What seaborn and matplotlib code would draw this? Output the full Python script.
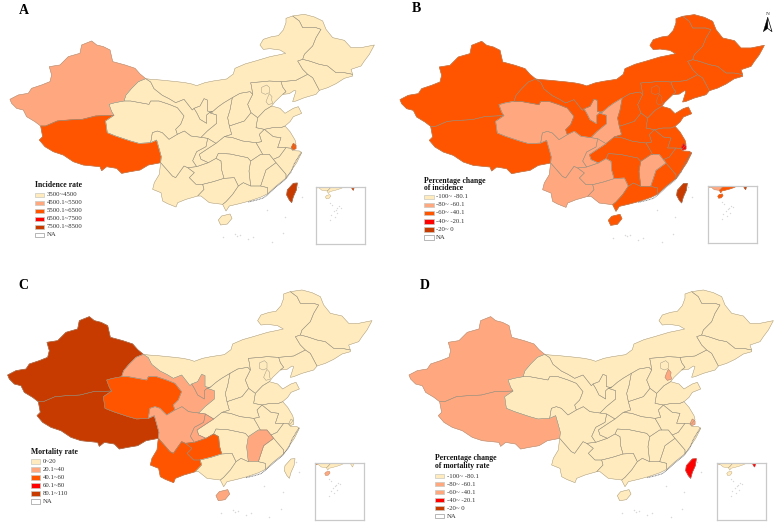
import matplotlib
matplotlib.use("Agg")
import matplotlib.pyplot as plt
from matplotlib.patches import Rectangle, Polygon
import pandas as pd
import seaborn as sns

# ---------- values: class index of each province per panel ----------
provinces = ["Xinjiang","Tibet","Qinghai","Gansu","Ningxia","InnerMongolia","Shaanxi","Shanxi",
             "Hebei","Beijing","Tianjin","Liaoning","Jilin","Heilongjiang","Shandong","Henan",
             "Jiangsu","Anhui","Shanghai","Zhejiang","Fujian","Jiangxi","Hubei","Hunan",
             "Sichuan","Chongqing","Guizhou","Yunnan","Guangxi","Guangdong","Hainan","Taiwan"]
incidence_class = [1,2,0,0,0,0,0,0, 0,0,0,0,0,0,0,0, 0,0,2,0,0,0,0,0, 0,0,0,0,0,0,0,4]
incidence_change_class = [2,2,1,2,1,2,1,2, 2,2,2,2,2,2,2,2, 2,2,3,2,2,1,2,2, 1,1,1,1,1,2,2,4]
mortality_class = [4,4,2,1,1,0,0,0, 0,0,0,0,0,0,0,0, 0,0,0,0,0,1,0,0, 1,1,2,2,0,0,1,0]
mortality_change_class = [1,1,0,0,0,0,0,0, 0,0,1,0,0,0,0,0, 0,0,1,0,0,0,0,0, 0,0,0,0,0,0,0,3]

class_colors = ["#FFEBBE", "#FFA77F", "#FF5500", "#FF0000", "#C73A00"]
panels = ["A", "B", "C", "D"]
legend_titles = [["Incidence rate"], ["Percentage change", "of incidence"],
                 ["Mortality rate"], ["Percentage change", "of mortality rate"]]
legend_labels = [["3500~4500", "4500.1~5500", "5500.1~6500", "6500.1~7500", "7500.1~8500", "NA"],
                 ["-100~ -80.1", "-80~ -60.1", "-60~ -40.1", "-40~ -20.1", "-20~ 0", "NA"],
                 ["0~20", "20.1~40", "40.1~60", "60.1~80", "80.1~110", "NA"],
                 ["-100~ -80.1", "-80~ -60.1", "-60~ -40.1", "-40~ -20.1", "-20~ 0", "NA"]]
legend_swatches = [[0,1,2,3,4], [0,1,2,3,4], [0,1,2,3,4], [0,1,1,3,4]]

# ---------- geometry ----------
north_chain = [(437,236),(452,238),(480,240),(530,245),(555,248),(575,252),(590,257),(615,248),(640,243),
               (680,237),(700,222),(705,205),(735,192),(770,182),(810,170),(835,165),(857,160),(840,150),
               (810,146),(790,148),(780,135),(790,118),(815,110),(835,107),(850,90),(858,68),(858,55),(878,48)]
outlines = {
 "Xinjiang": [(30,298),(55,285),(85,280),(95,265),(125,255),(150,245),(155,225),(148,200),(180,195),(205,170),
              (240,160),(245,135),(275,123),(290,135),(310,140),(330,150),(338,185),(375,195),(405,205),(420,222),
              (437,236),(415,245),(395,265),(378,285),(372,303),(345,308),(327,313),(335,335),(342,346),(287,348),
              (247,358),(207,360),(172,363),(137,378),(122,378),(105,365),(80,350),(70,330),(50,325),(35,310)],
 "Tibet": [(137,378),(172,363),(207,360),(247,358),(287,348),(342,346),(317,363),(322,398),(347,408),(392,423),
           (417,430),(452,428),(470,420),(478,448),(484,470),(482,488),(445,495),(420,510),(390,515),(365,520),
           (350,505),(320,500),(305,512),(300,500),(250,495),(220,485),(190,465),(160,455),(135,440),(118,420),
           (128,410),(122,378)],
 "Qinghai": [(372,303),(392,303),(447,313),(452,303),(477,303),(507,313),(532,323),(552,348),(542,373),(527,388),
             (532,403),(507,418),(487,398),(472,393),(457,398),(452,428),(417,430),(392,423),(347,408),(322,398),
             (317,363),(342,346),(335,335),(327,313),(345,308)],
 "Gansu": [(437,236),(452,246),(462,266),(487,286),(507,296),(527,308),(552,298),(577,330),(582,325),(590,338),
           (600,358),(620,370),(620,345),(628,338),(650,345),(650,370),(622,393),(603,412),(573,408),(553,393),
           (532,403),(527,388),(542,373),(552,348),(532,323),(507,313),(477,303),(452,303),(447,313),(392,303),
           (372,303),(378,285),(395,265),(415,245)],
 "Ningxia": [(582,325),(600,318),(612,296),(622,300),(622,333),(638,336),(628,338),(620,345),(620,370),(600,358),(590,338)],
 "InnerMongolia": north_chain + [(898,63),(908,83),(948,83),(963,88),(948,113),(938,138),(913,163),(908,178),(893,183),
           (908,208),(923,223),(888,241),(843,245),(808,243),(790,245),(752,248),(755,262),(758,283),(750,275),(720,280),
           (697,293),(672,308),(655,320),(640,333),(628,338),(638,336),(622,333),(622,300),(612,296),(600,318),(582,325),
           (577,330),(552,298),(527,308),(507,296),(487,286),(462,266),(452,246)],
 "Shaanxi": [(697,293),(690,330),(683,353),(688,378),(695,403),(673,410),(648,430),(623,415),(603,412),(622,393),
             (650,370),(650,345),(628,338),(640,333),(655,320),(672,308)],
 "Shanxi": [(697,293),(720,280),(750,275),(758,283),(743,313),(753,338),(733,363),(688,378),(683,353),(690,330)],
 "Hebei": [(752,248),(790,245),(808,243),(843,245),(848,261),(858,275),(848,283),(825,305),(815,318),(795,330),
           (773,353),(753,338),(743,313),(758,283),(755,262)],
 "Beijing": [(785,262),(800,255),(808,262),(808,278),(796,283),(785,278)],
 "Tianjin": [(808,281),(816,290),(815,300),(818,310),(805,314),(798,305),(803,292)],
 "Liaoning": [(923,223),(938,233),(958,271),(948,283),(913,293),(888,303),(878,305),(888,273),(883,271),(868,281),
              (848,283),(858,275),(848,261),(843,245),(888,241)],
 "Jilin": [(908,178),(928,183),(958,193),(983,198),(1008,218),(1033,218),(1058,223),(1058,228),(1033,235),(1008,251),
           (983,263),(958,271),(938,233),(923,223),(908,208),(893,183)],
 "Heilongjiang": [(878,48),(913,43),(943,51),(968,63),(978,88),(998,113),(1033,121),(1053,143),(1083,143),(1123,135),
                  (1108,163),(1093,183),(1083,198),(1053,208),(1058,223),(1033,218),(1008,218),(983,198),(958,193),
                  (928,183),(908,178),(913,163),(938,138),(948,113),(963,88),(948,83),(908,83),(898,63)],
 "Shandong": [(795,330),(815,318),(840,325),(855,340),(880,325),(895,320),(905,340),(880,350),(870,365),(855,378),
              (843,383),(818,383),(793,388),(768,383),(773,353)],
 "Henan": [(688,378),(733,363),(753,338),(773,353),(768,383),(793,388),(778,403),(785,425),(768,428),(728,423),
           (698,413),(673,410),(695,403)],
 "Jiangsu": [(793,388),(818,383),(843,383),(855,378),(870,395),(885,420),(888,432),(878,445),(858,443),(833,443),
             (843,413),(820,410)],
 "Anhui": [(793,388),(820,410),(843,413),(833,443),(858,443),(838,470),(820,478),(808,463),(788,463),(778,445),
           (768,428),(785,425),(778,403)],
 "Shanghai": [(880,430),(888,436),(888,446),(878,450),(873,445),(876,438)],
 "Zhejiang": [(858,443),(873,445),(878,452),(898,453),(905,458),(890,488),(873,513),(858,535),(858,523),(828,488),
              (820,478),(838,470)],
 "Fujian": [(828,488),(858,523),(858,535),(853,538),(828,558),(803,581),(803,563),(782,558),(798,510)],
 "Jiangxi": [(752,483),(782,463),(788,463),(808,463),(820,478),(828,488),(798,510),(782,558),(752,558),(747,513)],
 "Hubei": [(648,430),(673,410),(698,413),(728,423),(768,428),(778,445),(788,463),(782,463),(752,483),(743,473),
           (690,462),(655,460),(648,475),(625,488),(603,478),(598,463),(625,445)],
 "Hunan": [(655,460),(690,462),(743,473),(752,483),(747,513),(752,558),(730,548),(715,558),(703,533),(672,535),
           (665,510),(663,483),(648,475)],
 "Sichuan": [(457,398),(472,393),(487,398),(507,418),(532,403),(553,393),(573,408),(603,412),(623,415),(618,440),
             (590,455),(578,482),(590,500),(563,503),(552,498),(527,533),(517,528),(482,488),(484,470),(478,448),
             (470,420),(452,428)],
 "Chongqing": [(623,415),(648,430),(625,445),(598,463),(603,478),(625,488),(590,500),(578,482),(590,455),(618,440)],
 "Guizhou": [(563,503),(590,500),(625,488),(648,475),(663,483),(665,510),(672,535),(640,545),(608,553),(588,553),
             (568,533),(583,518)],
 "Yunnan": [(482,488),(517,528),(527,533),(552,498),(563,503),(583,518),(568,533),(588,553),(608,553),(612,568),
            (593,588),(558,598),(533,608),(528,621),(503,611),(488,603),(483,578),(458,568),(463,548),(478,523)],
 "Guangxi": [(608,553),(640,545),(672,535),(703,533),(715,558),(698,583),(678,605),(668,613),(628,608),(603,588),
             (593,588),(612,568)],
 "Guangdong": [(715,558),(730,548),(752,558),(782,558),(803,563),(803,581),(783,591),(748,603),(718,611),(688,618),
               (678,633),(668,613),(678,605),(698,583)],
 "Hainan": [(655,660),(665,648),(690,642),(696,655),(682,672),(662,675)],
 "Taiwan": [(880,550),(892,549),(889,570),(880,590),(875,608),(868,600),(860,585),(862,570)],
}
coast_speckle_x = [745,770,790,803,828,853,873,883,898,905]
coast_speckle_y = [606,600,594,584,561,541,516,491,466,456]
island_x = [670,705,712,720,745,760,800,855,815,850,895,905]
island_y = [712,703,708,705,718,712,630,650,725,700,560,590]
inset_island_x = [690,705,720,735,745,760,775,700,750,690,730]
inset_island_y = [705,720,775,760,750,735,745,800,790,840,815]

map_offsets = [(0,0), (0,1), (-7,32), (27,32)]
inset_boxes = [(948,560,1094,733), (955,558,1100,730), (946,595,1093,766), (982,595,1127,766)]
letter_positions = [(73,30), (78,27), (70,62), (105,61)]
legend_x = [105, 103, 93, 135]
legend_title_y = [[555], [543,565], [560], [580,603]]
legend_row_y = [[585,609,633,657,681,705], [591,615,639,664,688,712],
                [590,614,638,662,686,710], [633,657,681,705,729,753]]

class_by_panel = dict(zip(panels, [incidence_class, incidence_change_class, mortality_class, mortality_change_class]))
table = pd.concat([pd.DataFrame({"panel": p, "province": provinces, "cls": class_by_panel[p]}) for p in panels])

sns.set_theme(style="white")
plt.rcParams["font.family"] = ["Liberation Serif", "DejaVu Serif"]
EDGE = "#96907f"


def draw_provinces(ax, data, off, lw):
    # a same-coloured underlay closes antialiasing seams along shared borders
    for _, r in data.iterrows():
        pts = [(x + off[0], y + off[1]) for x, y in outlines[r.province]]
        ax.add_patch(Polygon(pts, closed=True, facecolor=class_colors[r.cls], edgecolor=class_colors[r.cls], linewidth=0.5))
    for _, r in data.iterrows():
        pts = [(x + off[0], y + off[1]) for x, y in outlines[r.province]]
        ax.add_patch(Polygon(pts, closed=True, facecolor="none", edgecolor=EDGE, linewidth=lw, joinstyle="round"))


def draw_panel(data, **kwargs):
    ax = plt.gca()
    i = panels.index(data["panel"].iloc[0])
    off = map_offsets[i]
    right = i % 2
    bottom = i // 2
    ax.set_xlim(-1.5 if right else 0, 1167 if right else 1168.5)
    ax.set_ylim(796.5 if not bottom else 798, 0 if not bottom else 1.5)
    ax.set_axis_off()

    draw_provinces(ax, data, off, 0.3)
    ax.plot([x + off[0] for x in coast_speckle_x], [y + off[1] for y in coast_speckle_y],
            color="#808080", lw=0.7, ls=(0, (1, 0.6)))
    sns.scatterplot(x=[x + off[0] for x in island_x], y=[y + off[1] for y in island_y], ax=ax,
                    s=1.2, color="#d8d8d8", linewidth=0, legend=False)

    # inset
    x0, y0, x1, y1 = inset_boxes[i]
    xl0, xl1 = ax.get_xlim()
    yl0, yl1 = ax.get_ylim()
    fx = lambda v: (v - xl0) / (xl1 - xl0)
    fy = lambda v: (v - yl0) / (yl1 - yl0)
    axin = ax.inset_axes([fx(x0), fy(y1), fx(x1) - fx(x0), fy(y0) - fy(y1)])
    s = 0.38
    hx = 984 - 948
    hy = 590 - 560
    axin.set_xlim(675 - hx / s, 675 + (x1 - x0 - hx) / s)
    axin.set_ylim(658 + (y1 - y0 - hy) / s, 658 - hy / s)
    axin.set_xticks([]); axin.set_yticks([])
    for sp in axin.spines.values():
        sp.set_visible(True); sp.set_color("#c9c9c9"); sp.set_linewidth(0.9)
    draw_provinces(axin, data, (0, 0), 0.2)
    sns.scatterplot(x=inset_island_x, y=inset_island_y, ax=axin, s=1, color="#d8d8d8", linewidth=0, legend=False)
    axin.set_xlabel(""); axin.set_ylabel("")

    # panel letter
    lx, ly = letter_positions[i]
    ax.text(lx, ly, panels[i], fontsize=10, fontweight="bold", ha="center", va="center", color="black")

    # legend
    lgx = legend_x[i]
    for t, ty in zip(legend_titles[i], legend_title_y[i]):
        ax.text(lgx, ty, t, fontsize=5.6, fontweight="bold", ha="left", va="center", color="#111111")
    for k, (lab, ry) in enumerate(zip(legend_labels[i], legend_row_y[i])):
        fc = class_colors[legend_swatches[i][k]] if k < 5 else "white"
        ax.add_patch(Rectangle((lgx, ry - 7), 28, 14, facecolor=fc, edgecolor="#9a9a9a" if k == 5 else "#c8c8c0", linewidth=0.5))
        ax.text(lgx + 35, ry, lab, fontsize=4.9, ha="left", va="center", color="#333333")

    # north arrow
    if i == 1:
        ax.text(1133, 43, "N", fontsize=3.8, ha="center", va="center", color="#222222")
        ax.add_patch(Polygon([(1133, 52), (1133, 85), (1120, 95)], facecolor="black", edgecolor="black", linewidth=0.3))
        ax.add_patch(Polygon([(1133, 52), (1133, 85), (1146, 95)], facecolor="white", edgecolor="black", linewidth=0.5))


g = sns.FacetGrid(table, col="panel", col_wrap=2, col_order=panels, height=2.655, aspect=7.79 / 5.31,
                  sharex=False, sharey=False, despine=False)
g.map_dataframe(draw_panel)
fig = g.figure
fig.set_size_inches(7.79, 5.31)
fig.subplots_adjust(left=0, right=1, bottom=0, top=1, wspace=0, hspace=0)
for a in g.axes.flat:
    a.set_title("")
fig.savefig("out.png", dpi=100, facecolor="white")
